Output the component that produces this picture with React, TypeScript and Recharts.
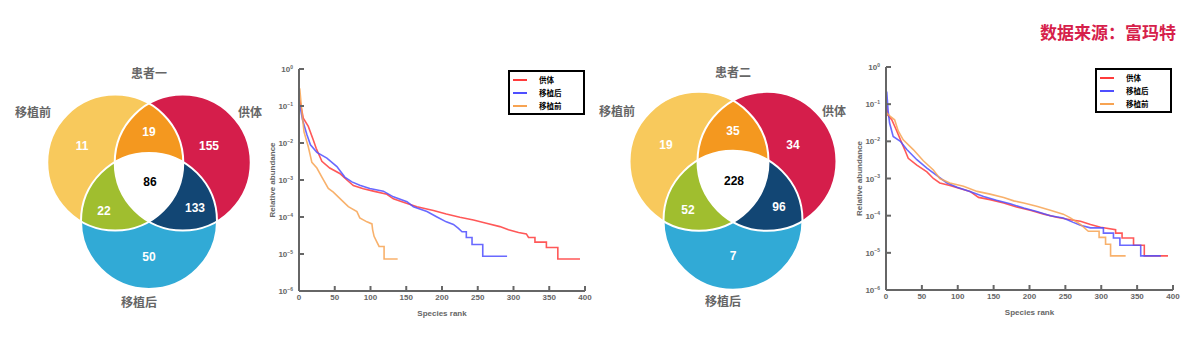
import React from "react";
import { ScatterChart, Scatter, XAxis, YAxis, LineChart, Line, Legend } from "recharts";

const FONT = "'Liberation Sans', 'Noto Sans CJK SC', Arial, sans-serif";
const CJK = "'Noto Sans CJK SC', 'Liberation Sans', sans-serif";
const GREY = "#666";

// ---- Venn data: regions A, B, C, AB, AC, BC, ABC
const setNames = ["移植前", "供体", "移植后"];
const regionKeys = ["A", "B", "C", "AB", "AC", "BC", "ABC"];
const patient1Title = "患者一";
const patient1Counts = [11, 155, 50, 19, 22, 133, 86];
const patient2Title = "患者二";
const patient2Counts = [19, 34, 7, 35, 52, 96, 228];

// ---- rank-abundance curves: [species rank, relative abundance]
const seriesNames = ["供体", "移植后", "移植前"];
const p1Donor: [number, number][] = [
  [1, 1.45e-1], [6, 4.7e-2], [13, 2.8e-2], [20, 1.2e-2], [24, 7.2e-3], [32, 3.2e-3], [43, 2.1e-3],
  [57, 1.5e-3], [67, 1.0e-3], [76, 7.1e-4], [90, 5.8e-4], [104, 5.0e-4], [123, 4.1e-4], [132, 3.1e-4],
  [146, 2.5e-4], [165, 1.9e-4], [188, 1.5e-4], [206, 1.2e-4], [225, 9.8e-5], [244, 8.3e-5], [262, 6.8e-5],
  [281, 5.5e-5], [293, 4.5e-5], [307, 3.8e-5], [318, 3.5e-5], [321, 2.8e-5], [330, 2.8e-5], [330, 2.1e-5],
  [346, 2.1e-5], [346, 1.5e-5], [362, 1.5e-5], [362, 7.3e-6], [393, 7.3e-6],
];
const p1Post: [number, number][] = [
  [1, 1.1e-1], [5, 4.2e-2], [11, 1.7e-2], [16, 8.9e-3], [25, 5.6e-3], [39, 3.9e-3], [53, 2.3e-3],
  [64, 1.2e-3], [74, 8.9e-4], [85, 7.2e-4], [99, 5.9e-4], [118, 5.0e-4], [132, 3.5e-4], [151, 2.6e-4],
  [160, 1.9e-4], [179, 1.4e-4], [193, 1.0e-4], [206, 7.4e-5], [216, 6.3e-5], [223, 4.9e-5], [228, 4.0e-5],
  [234, 4.0e-5], [234, 2.8e-5], [242, 2.8e-5], [242, 1.8e-5], [257, 1.8e-5], [257, 8.7e-6], [291, 8.7e-6],
];
const p1Pre: [number, number][] = [
  [1, 3.0e-1], [4, 7.1e-2], [7, 2.0e-2], [13, 7.9e-3], [18, 3.0e-3], [25, 2.1e-3], [32, 1.2e-3],
  [41, 5.9e-4], [48, 4.7e-4], [57, 3.2e-4], [69, 1.9e-4], [81, 1.4e-4], [85, 9.5e-5], [95, 7.4e-5],
  [102, 6.5e-5], [103, 4.5e-5], [105, 3.0e-5], [109, 2.1e-5], [112, 1.6e-5], [119, 1.6e-5], [119, 7.3e-6],
  [138, 7.3e-6],
];
const p2Donor: [number, number][] = [
  [1, 9.0e-2], [2, 5.2e-2], [8, 3.8e-2], [15, 1.9e-2], [22, 9.1e-3], [27, 5.4e-3], [31, 3.5e-3],
  [43, 2.3e-3], [57, 1.5e-3], [66, 1.0e-3], [75, 7.6e-4], [89, 6.5e-4], [103, 5.4e-4], [117, 4.5e-4],
  [129, 3.1e-4], [145, 2.7e-4], [164, 2.2e-4], [182, 1.7e-4], [201, 1.4e-4], [220, 1.1e-4], [238, 9.1e-5],
  [257, 7.8e-5], [271, 7.1e-5], [285, 5.8e-5], [299, 4.9e-5], [320, 4.2e-5], [320, 3.4e-5], [329, 3.4e-5],
  [329, 2.5e-5], [345, 2.5e-5], [345, 1.6e-5], [360, 1.6e-5], [360, 8.3e-6], [393, 8.3e-6],
];
const p2Post: [number, number][] = [
  [1, 2.2e-1], [3, 6.5e-2], [5, 3.1e-2], [10, 1.35e-2], [20, 1.0e-2], [29, 6.0e-3], [43, 3.2e-3],
  [57, 1.9e-3], [71, 1.2e-3], [85, 7.6e-4], [99, 5.8e-4], [117, 4.5e-4], [136, 3.3e-4], [154, 2.6e-4],
  [173, 2.1e-4], [192, 1.6e-4], [210, 1.3e-4], [229, 1.0e-4], [247, 8.7e-5], [261, 6.6e-5], [271, 5.5e-5],
  [285, 4.7e-5], [303, 4.7e-5], [303, 3.4e-5], [317, 3.4e-5], [317, 2.5e-5], [326, 2.5e-5], [326, 1.6e-5],
  [355, 1.6e-5], [355, 8.3e-6], [383, 8.3e-6],
];
const p2Pre: [number, number][] = [
  [1, 5.8e-2], [6, 4.7e-2], [12, 3.8e-2], [17, 1.9e-2], [24, 1.1e-2], [38, 6.0e-3], [52, 3.0e-3],
  [66, 1.7e-3], [75, 1.0e-3], [89, 7.6e-4], [108, 6.2e-4], [127, 4.5e-4], [145, 3.8e-4], [164, 3.1e-4],
  [178, 2.5e-4], [192, 2.2e-4], [210, 1.8e-4], [229, 1.4e-4], [247, 1.1e-4], [257, 8.7e-5], [271, 5.8e-5],
  [282, 3.8e-5], [297, 3.8e-5], [297, 2.6e-5], [306, 2.6e-5], [306, 1.7e-5], [313, 1.7e-5], [313, 8.3e-6],
  [334, 8.3e-6],
];
const rankTicks = [0, 50, 100, 150, 200, 250, 300, 350, 400];
const abundanceTicks = [1e-6, 1e-5, 1e-4, 1e-3, 1e-2, 1e-1, 1];

const LINE_COLORS = ["#FF3B3B", "#4F4FFF", "#F7A352"];

// ---- Venn layout (px, y up, relative to centroid)
const SET_COLORS = ["#F8C95C", "#D51E4B", "#31AAD6"];
const PAIR_FILL: Record<string, string> = { AB: "#F4981F", AC: "#A0BE2F", BC: "#124674" };
const REGION_POS: Record<string, [number, number]> = {
  A: [-67, 37], B: [60, 37], C: [0, -74], AB: [0, 51], AC: [-45, -28], BC: [46, -25], ABC: [1, 1],
};
const SET_LABEL_POS: [number, number][] = [[-116, 70], [101, 70], [-10, -120]];
const TITLE_POS: [number, number] = [0, 109];
const VSIZE = 300;

function Venn({ id, title, counts, r, d, left, top }: any) {
  const h = (d * Math.sqrt(3)) / 6;
  const centers = [[-d / 2, h], [d / 2, h], [0, -2 * h]];
  const sets = setNames.map((name, i) => ({ x: centers[i][0], y: centers[i][1], i, name }));
  const pairs = [["AB", 0, 1], ["AC", 0, 2], ["BC", 1, 2]].map(([k, i, j]) => ({
    x: REGION_POS[k as string][0], y: REGION_POS[k as string][1], k, i, j,
  }));
  const triple = [{ x: 0, y: 0 }];
  const regionLabels = regionKeys.map((k, idx) => ({
    x: REGION_POS[k][0], y: REGION_POS[k][1], label: String(counts[idx]), dark: k === "ABC",
  }));
  const nameLabels = [
    ...setNames.map((name, i) => ({ x: SET_LABEL_POS[i][0], y: SET_LABEL_POS[i][1], label: name })),
    { x: TITLE_POS[0], y: TITLE_POS[1], label: title },
  ];
  const cid = (i: number) => `${id}-circ${i}`;
  const clip = (i: number) => `url(#${id}-clip${i})`;

  return (
    <div style={{ position: "absolute", left, top }}>
      <ScatterChart width={VSIZE} height={VSIZE} margin={{ top: 0, right: 0, bottom: 0, left: 0 }}>
        <XAxis type="number" dataKey="x" domain={[-VSIZE / 2, VSIZE / 2]} hide />
        <YAxis type="number" dataKey="y" domain={[-VSIZE / 2, VSIZE / 2]} hide />
        <Scatter
          data={sets}
          isAnimationActive={false}
          shape={(p: any) => (
            <g>
              <defs>
                <circle id={cid(p.payload.i)} cx={p.cx} cy={p.cy} r={r} />
                <clipPath id={`${id}-clip${p.payload.i}`}>
                  <circle cx={p.cx} cy={p.cy} r={r} />
                </clipPath>
              </defs>
              <use href={`#${cid(p.payload.i)}`} fill={SET_COLORS[p.payload.i]} />
            </g>
          )}
        />
        <Scatter
          data={pairs}
          isAnimationActive={false}
          shape={(p: any) => (
            <g clipPath={clip(p.payload.j)}>
              <use href={`#${cid(p.payload.i)}`} fill={PAIR_FILL[p.payload.k]} />
            </g>
          )}
        />
        <Scatter
          data={triple}
          isAnimationActive={false}
          shape={() => (
            <g clipPath={clip(1)}>
              <g clipPath={clip(2)}>
                <use href={`#${cid(0)}`} fill="#fff" />
              </g>
            </g>
          )}
        />
        <Scatter
          data={sets}
          isAnimationActive={false}
          shape={(p: any) => (
            <use href={`#${cid(p.payload.i)}`} fill="none" stroke="#fff" strokeWidth={2} />
          )}
        />
        <Scatter
          data={regionLabels}
          isAnimationActive={false}
          shape={(p: any) => (
            <text x={p.cx} y={p.cy} dy={4.5} textAnchor="middle" fontSize={12} fontWeight={700}
              fontFamily={FONT} fill={p.payload.dark ? "#000" : "#fff"}>
              {p.payload.label}
            </text>
          )}
        />
        <Scatter
          data={nameLabels}
          isAnimationActive={false}
          shape={(p: any) => (
            <text x={p.cx} y={p.cy} dy={4.5} textAnchor="middle" fontSize={12} fontWeight={700}
              fontFamily={CJK} fill={GREY}>
              {p.payload.label}
            </text>
          )}
        />
      </ScatterChart>
    </div>
  );
}

function LogTick(props: any) {
  const { x, y, payload } = props;
  const e = Math.round(Math.log10(payload.value));
  return (
    <text x={x} y={y} dy={3} textAnchor="end" fill={GREY} fontSize={8} fontWeight={700} fontFamily={FONT}>
      10<tspan dy={-3.5} fontSize={5}>{e === 0 ? "0" : `\u2212${-e}`}</tspan>
    </text>
  );
}

function LegendBox({ payload }: any) {
  const items = [...(payload || [])].sort(
    (a: any, b: any) => seriesNames.indexOf(a.value) - seriesNames.indexOf(b.value)
  );
  return (
    <div style={{ width: 73, height: 40, border: "2px solid #000", background: "#fff", paddingTop: 1, boxSizing: "content-box" }}>
      {items.map((item: any) => (
        <div key={item.value} style={{ height: 13, display: "flex", alignItems: "center" }}>
          <span style={{ display: "inline-block", marginLeft: 3, width: 14, height: 2, background: LINE_COLORS[seriesNames.indexOf(item.value)] }} />
          <span style={{ marginLeft: 12, fontSize: 7.5, fontWeight: 700, fontFamily: CJK, color: "#000", lineHeight: 1 }}>
            {item.value}
          </span>
        </div>
      ))}
    </div>
  );
}

const toPoints = (arr: [number, number][]) => arr.map(([rank, value]) => ({ rank, value }));

function RankChart({ left, top, height, right, series }: any) {
  const axisStyle = { stroke: GREY, strokeWidth: 2 };
  return (
    <div style={{ position: "absolute", left, top }}>
      <LineChart width={350} height={height} margin={{ top: 14, right, bottom: 0, left: 0 }}>
        <XAxis
          type="number" dataKey="rank" domain={[0, 400]} ticks={rankTicks} allowDataOverflow
          height={34} tickSize={-5} tickMargin={8} axisLine={axisStyle} tickLine={axisStyle}
          tick={{ fontSize: 8, fontWeight: 700, fill: GREY, fontFamily: FONT }}
          label={{ value: "Species rank", position: "insideBottom", offset: 9, fontSize: 8, fontWeight: 700, fill: GREY, fontFamily: FONT }}
        />
        <YAxis
          scale="log" domain={[1e-6, 1]} ticks={abundanceTicks} allowDataOverflow width={49}
          tickSize={-5} tickMargin={11} axisLine={axisStyle} tickLine={axisStyle} tick={<LogTick />}
          label={{
            value: "Relative abundance", angle: -90, position: "insideLeft", offset: 22,
            fontSize: 8, fontWeight: 700, fill: GREY, fontFamily: FONT, style: { textAnchor: "middle" },
          }}
        />
        <Legend
          layout="horizontal" verticalAlign="middle" align="center"
          wrapperStyle={{ left: 258, top: 15, width: 77, height: 44 }}
          content={<LegendBox />}
        />
        {series.map((s: [number, number][], i: number) => (
          <Line
            key={seriesNames[i]} data={toPoints(s)} dataKey="value" name={seriesNames[i]} type="linear"
            stroke={LINE_COLORS[i]} strokeWidth={1.6} strokeOpacity={0.85} dot={false} activeDot={false}
            isAnimationActive={false}
          />
        ))}
      </LineChart>
    </div>
  );
}

export default function App() {
  return (
    <div style={{ position: "absolute", left: 0, top: 0, width: 1200, height: 343, background: "#fff", overflow: "hidden" }}>
      <div style={{ position: "absolute", left: 1040, top: 21, fontSize: 17, fontWeight: 700, fontFamily: CJK, color: "#D6204A", lineHeight: "22px" }}>
        数据来源：富玛特
      </div>
      <Venn id="v1" title={patient1Title} counts={patient1Counts} r={68} d={67.5} left={-1.3} top={32} />
      <RankChart left={250} top={55} height={270} right={15} series={[p1Donor, p1Post, p1Pre]} />
      <Venn id="v2" title={patient2Title} counts={patient2Counts} r={69.5} d={68} left={582.5} top={30.7} />
      <RankChart left={837} top={53} height={271} right={14} series={[p2Donor, p2Post, p2Pre]} />
    </div>
  );
}
